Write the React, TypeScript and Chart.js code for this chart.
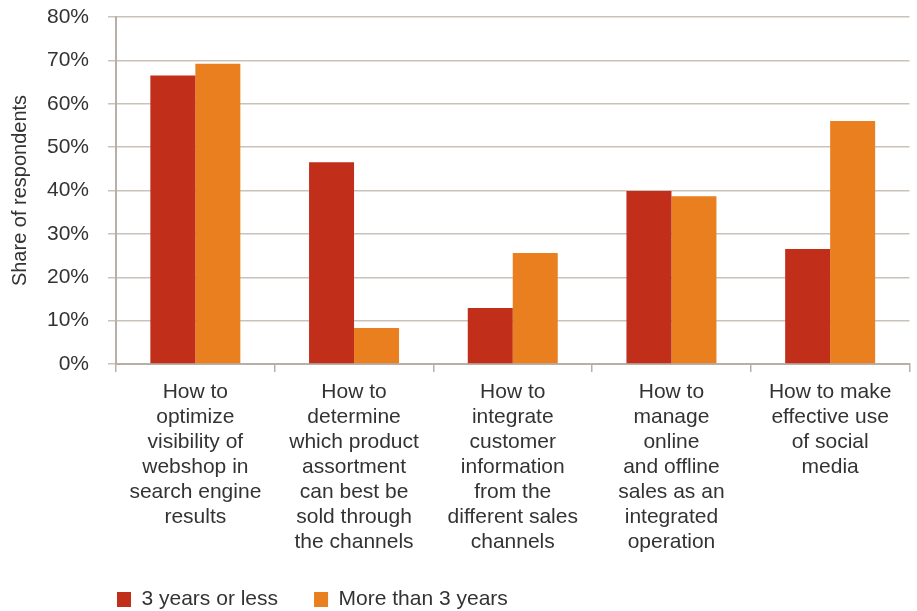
import React, { useEffect, useRef } from "react";
import { Chart, registerables } from "chart.js";

Chart.register(...registerables);

const categories: string[][] = [
  ["How to", "optimize", "visibility of", "webshop in", "search engine", "results"],
  ["How to", "determine", "which product", "assortment", "can best be", "sold through", "the channels"],
  ["How to", "integrate", "customer", "information", "from the", "different sales", "channels"],
  ["How to", "manage", "online", "and offline", "sales as an", "integrated", "operation"],
  ["How to make", "effective use", "of social", "media"],
];

const seriesNames = ["3 years or less", "More than 3 years"];
const threeYearsOrLess = [66.5, 46.5, 12.9, 39.9, 26.5];
const moreThanThreeYears = [69.2, 8.3, 25.6, 38.7, 56.0];
const yTicks = [0, 10, 20, 30, 40, 50, 60, 70, 80];

const RED = "#C12E1A";
const ORANGE = "#E97F1E";
const TEXT = "#333333";
const GRID = "#C9C2BA";
const AXIS = "#B8B0A8";
const FONT = "'Liberation Sans', Arial, Helvetica, sans-serif";

export default function App() {
  const ref = useRef<HTMLCanvasElement | null>(null);

  useEffect(() => {
    if (!ref.current) return;
    const chart = new Chart(ref.current, {
      type: "bar",
      data: {
        labels: categories,
        datasets: [
          {
            label: seriesNames[0],
            data: threeYearsOrLess,
            backgroundColor: RED,
            borderWidth: 0,
            categoryPercentage: 0.567,
            barPercentage: 1.0,
          },
          {
            label: seriesNames[1],
            data: moreThanThreeYears,
            backgroundColor: ORANGE,
            borderWidth: 0,
            categoryPercentage: 0.567,
            barPercentage: 1.0,
          },
        ],
      },
      options: {
        animation: false,
        responsive: true,
        maintainAspectRatio: false,
        layout: { padding: { top: 17, right: 7.5, bottom: 0, left: 0 } },
        plugins: {
          tooltip: { enabled: false },
          legend: {
            display: true,
            position: "bottom",
            align: "start",
            fullSize: false,
            maxHeight: 23,
            labels: {
              boxWidth: 14,
              boxHeight: 15,
              padding: 1,
              color: TEXT,
              font: { family: FONT, size: 21 },
              generateLabels: (c: any) => {
                const items = Chart.defaults.plugins.legend.labels.generateLabels(c);
                return items.map((it: any, i: number) =>
                  i < items.length - 1 ? { ...it, text: it.text + "      " } : it
                );
              },
            },
          },
        },
        scales: {
          x: {
            offset: true,
            grid: {
              display: true,
              drawOnChartArea: false,
              drawTicks: true,
              tickLength: 8,
              color: AXIS,
              lineWidth: 1.5,
              offset: true,
            },
            border: { display: true, color: AXIS, width: 2 },
            ticks: {
              color: TEXT,
              font: { family: FONT, size: 21, lineHeight: 25 / 21 },
              padding: 8,
              maxRotation: 0,
              minRotation: 0,
              autoSkip: false,
            },
            afterFit: (scale: any) => {
              scale.height = 224;
            },
          },
          y: {
            min: 0,
            max: 80,
            afterBuildTicks: (scale: any) => {
              scale.ticks = yTicks.map((v) => ({ value: v }));
            },
            afterFit: (scale: any) => {
              scale.width = 116;
              scale.paddingTop = 10;
              scale.paddingBottom = 10;
            },
            grid: {
              display: true,
              drawTicks: true,
              tickLength: 8,
              color: GRID,
              lineWidth: 1.5,
            },
            border: { display: true, color: AXIS, width: 2 },
            ticks: {
              color: TEXT,
              font: { family: FONT, size: 21 },
              padding: 19,
              callback: (v: any) => v + "%",
            },
            title: {
              display: true,
              text: "Share of respondents",
              color: TEXT,
              font: { family: FONT, size: 20, lineHeight: 1.2 },
              padding: { top: 8, bottom: 15 },
            },
          },
        },
      },
    });
    return () => chart.destroy();
  }, []);

  return (
    <div style={{ position: "fixed", left: 0, top: 0, width: 917, height: 611, background: "#fff" }}>
      <canvas ref={ref} />
    </div>
  );
}
